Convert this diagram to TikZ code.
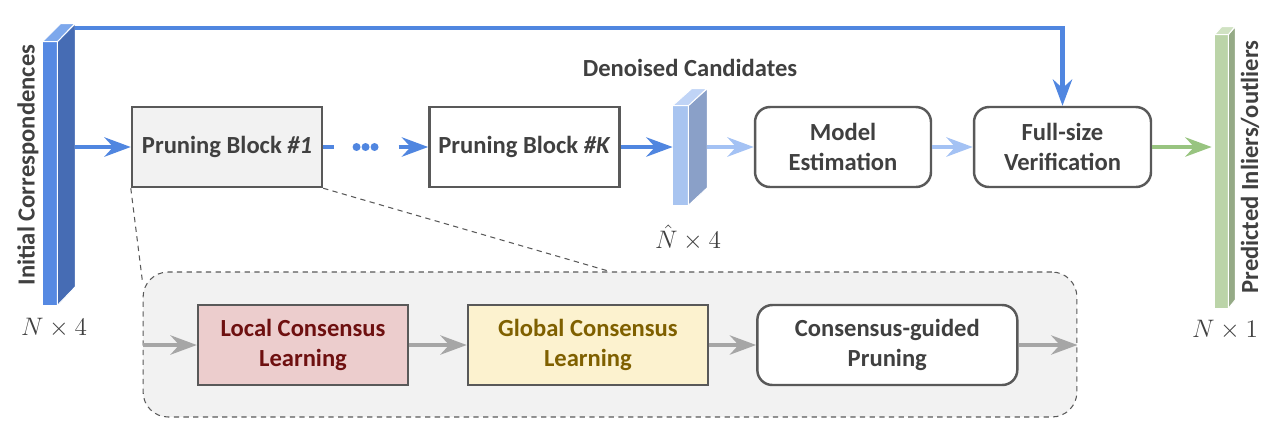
\documentclass[tikz,border=0pt]{standalone}
\usepackage[no-math]{fontspec}
\setmainfont{Carlito}
\usetikzlibrary{arrows.meta,positioning}

\definecolor{textgray}{RGB}{64,64,64}
\definecolor{boxgray}{RGB}{89,89,89}
\definecolor{blueline}{RGB}{80,134,224}
\definecolor{lightblueline}{RGB}{164,194,244}
\definecolor{greenline}{RGB}{152,196,128}
\definecolor{grayline}{RGB}{166,166,166}
\definecolor{initfront}{RGB}{86,137,226}
\definecolor{initside}{RGB}{70,108,180}
\definecolor{inittop}{RGB}{125,168,236}
\definecolor{denfront}{RGB}{168,196,240}
\definecolor{denside}{RGB}{138,160,200}
\definecolor{dentop}{RGB}{192,212,246}
\definecolor{predfront}{RGB}{187,212,168}
\definecolor{predside}{RGB}{149,170,134}
\definecolor{predtop}{RGB}{208,226,194}
\definecolor{localfill}{RGB}{236,205,205}
\definecolor{localtext}{RGB}{110,16,16}
\definecolor{globalfill}{RGB}{252,242,207}
\definecolor{globaltext}{RGB}{127,96,0}
\definecolor{detailfill}{RGB}{242,242,242}

\begin{document}
\begin{tikzpicture}[x=0.02cm,y=-0.02cm]

      \tikzstyle{block}=[rectangle,draw=boxgray,line width=1.4pt,
        minimum width=3.8cm,minimum height=1.6cm,align=center,
        text centered,text=textgray,
        font=\fontsize{14}{17.5}\selectfont\bfseries]
      \tikzstyle{roundblock}=[block,rounded corners=0.3cm]
      \tikzstyle{slab}=[rectangle,inner sep=0pt]
      \tikzstyle{label}=[text=textgray,
        font=\fontsize{14}{16.5}\selectfont\bfseries]
      \tikzstyle{dims}=[text=textgray,font=\fontsize{14}{16}\selectfont]
      \tikzstyle{tip}=[-{Stealth[length=15pt,width=11pt,inset=5pt]}]

      \useasboundingbox (0,0) rectangle (1288,434);

      \node(Detail)[rectangle,rounded corners=0.5cm,draw=boxgray,
        dash pattern=on 3pt off 2.5pt,line width=0.6pt,fill=detailfill,
        minimum width=18.68cm,minimum height=2.9cm] at (610,344.5){};

      \node(Init)[slab,fill=initfront,minimum width=0.28cm,
        minimum height=5.26cm] at (50,173.5){};
      \fill[initside,draw=white,line width=0.5pt] (Init.north east)
        -- ++(18,-18) -- ++(0,263) -- (Init.south east) -- cycle;
      \fill[inittop,draw=white,line width=0.5pt] (Init.north west)
        -- ++(18,-18) -- ++(14,0) -- (Init.north east) -- cycle;
      \node(InitLabel)[label,rotate=90] at (28,165){Initial Correspondences};
      \node(InitDims)[dims] at (54,328){$N\times4$};

      \node(Prune1)[block,fill=detailfill] at (227,147)
        {Pruning Block \textit{\#1}};
      \node(Dots)[inner sep=0pt,minimum width=0.36cm,
        right=0.66cm of Prune1]{};
      \node(PruneK)[block,fill=white,right=2.1cm of Prune1]
        {Pruning Block \textit{\#K}};

      \node(Den)[slab,fill=denfront,minimum width=0.3cm,
        minimum height=1.98cm] at (680.5,155.5){};
      \fill[denside,draw=white,line width=0.5pt] (Den.north east)
        -- ++(19,-17) -- ++(0,99) -- (Den.south east) -- cycle;
      \fill[dentop,draw=white,line width=0.5pt] (Den.north west)
        -- ++(19,-17) -- ++(15,0) -- (Den.north east) -- cycle;
      \node(DenLabel)[label] at (690,68){Denoised Candidates};
      \node(DenDims)[dims] at (688,238){$\hat{N}\times4$};

      \node(Model)[roundblock,fill=white,minimum width=3.52cm]
        at (843,147){Model\\Estimation};
      \node(Verify)[roundblock,fill=white,minimum width=3.54cm]
        at (1062.5,147){Full-size\\Verification};

      \node(Pred)[slab,fill=predfront,minimum width=0.26cm,
        minimum height=5.46cm] at (1221.5,171.5){};
      \fill[predside,draw=white,line width=0.5pt] (Pred.north east)
        -- ++(7,-8) -- ++(0,273) -- (Pred.south east) -- cycle;
      \fill[predtop,draw=white,line width=0.5pt] (Pred.north west)
        -- ++(7,-8) -- ++(13,0) -- (Pred.north east) -- cycle;
      \node(PredLabel)[label,rotate=90] at (1250,167)
        {Predicted Inliers/outliers};
      \node(PredDims)[dims] at (1225,330){$N\times1$};

      \node(Local)[block,fill=localfill,text=localtext,
        minimum width=4.2cm] at (303,345){Local Consensus\\Learning};
      \node(Global)[block,fill=globalfill,text=globaltext,
        minimum width=4.8cm,right=1.15cm of Local]
        {Global Consensus\\Learning};
      \node(Guided)[roundblock,fill=white,minimum width=5.2cm,
        right=0.94cm of Global]{Consensus-guided\\Pruning};

      \draw [dash pattern=on 3pt off 2.5pt,line width=0.6pt,boxgray]
      (Prune1.south west)--([yshift=-0.22cm]Detail.north west);
      \draw [dash pattern=on 3pt off 2.5pt,line width=0.6pt,boxgray]
      (Prune1.south east)--(Detail.north);

      \draw [line width=2.3pt,tip,blueline]
      ([xshift=0.36cm,yshift=0.28cm]Init.north east)-|(Verify.north);
      \draw [line width=2.3pt,tip,blueline]
      ([xshift=0.36cm]Init.east|-Prune1)--(Prune1);
      \draw [line width=2.3pt,blueline]
      (Prune1.east)--++(11,0);
      \foreach \dx in {-9,0,9}
        \fill[blueline] ([xshift=\dx*0.02cm]Dots.center) circle (0.08cm);
      \draw [line width=2.3pt,tip,blueline]
      ([xshift=0.66cm]Dots.center)--(PruneK);
      \draw [line width=2.3pt,tip,blueline]
      (PruneK)--(PruneK-|Den.west);
      \draw [line width=2.3pt,tip,lightblueline]
      ([xshift=0.38cm]Den.east|-Model)--(Model);
      \draw [line width=2.3pt,tip,lightblueline]
      (Model)--(Verify);
      \draw [line width=2.3pt,tip,greenline]
      (Verify)--([xshift=-0.06cm]Verify-|Pred.west);

      \draw [line width=2pt,tip,grayline]
      (Detail.west|-Local)--(Local);
      \draw [line width=2pt,tip,grayline]
      (Local)--(Global);
      \draw [line width=2pt,tip,grayline]
      (Global)--(Guided);
      \draw [line width=2pt,tip,grayline]
      (Guided)--(Detail.east|-Guided);

    \end{tikzpicture}
\end{document}
